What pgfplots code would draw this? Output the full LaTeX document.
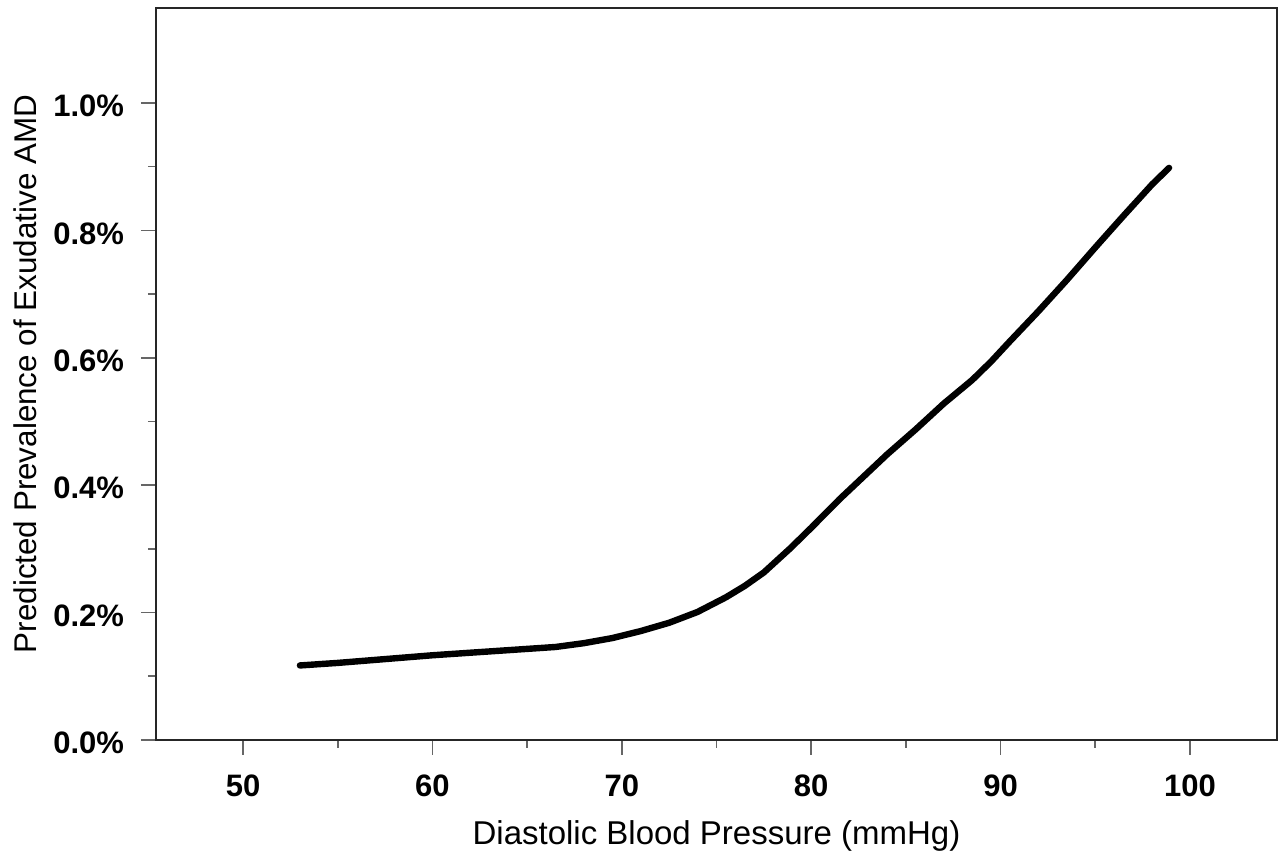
\documentclass[border=0pt]{standalone}
\usepackage{fontspec}
\setmainfont{Liberation Sans}
\usepackage{pgfplots}
\pgfplotsset{compat=1.18}
\usetikzlibrary{calc}
\begin{document}
\begin{tikzpicture}
\begin{axis}[
  scale only axis,
  width=560.5pt, height=366pt,
  xmin=45.4, xmax=104.6,
  ymin=0, ymax=1.149,
  xtick={50,60,70,80,90,100},
  ytick={0,0.2,0.4,0.6,0.8,1.0},
  minor x tick num=1,
  minor y tick num=1,
  xtick pos=left, ytick pos=left,
  tick align=outside,
  major tick length=7.5pt,
  minor tick length=4pt,
  tick style={color=black!60, line width=0.8pt},
  axis line style={line width=1.2pt, color=black!85},
  /pgf/number format/assume math mode=true,
  ticklabel style={font=\fontsize{15.5}{18}\selectfont\bfseries},
  yticklabel={\pgfmathprintnumber[fixed,fixed zerofill,precision=1]{\tick}\%},
  xticklabel style={anchor=base, yshift=-21pt},
  yticklabel style={anchor=east, xshift=-5pt, yshift=-1.5pt},
]
\addplot[black, line width=3.2pt, line cap=round, line join=round] coordinates {
(53.0,0.117) (55,0.121) (57.5,0.127) (60,0.133) (62.5,0.138) (65,0.143)
(66.5,0.146) (68,0.152) (69.5,0.160) (71,0.171) (72.5,0.184) (74,0.201)
(75.5,0.224) (76.5,0.242) (77.5,0.263) (78.9,0.301) (80,0.333) (81.5,0.378)
(82.5,0.406) (84,0.448) (85.5,0.487) (87,0.528) (88.5,0.565) (89.5,0.594)
(90.5,0.626) (92,0.673) (93.5,0.722) (95,0.773) (96.5,0.823) (98,0.872)
(98.9,0.898)
};
\coordinate (SW) at (rel axis cs:0,0);
\coordinate (NE) at (rel axis cs:1,1);
\coordinate (XL) at (rel axis cs:0.5,0);
\coordinate (YL) at (rel axis cs:0,0.5);
\end{axis}
\node[anchor=base, font=\fontsize{16.5}{19}\selectfont] at ([yshift=-52.5pt]XL) {Diastolic Blood Pressure (mmHg)};
\node[anchor=base, rotate=90, font=\fontsize{15.7}{19}\selectfont] at ([xshift=-59.5pt]YL) {Predicted Prevalence of Exudative AMD};
\pgfresetboundingbox
\useasboundingbox ([shift={(-78pt,-58pt)}]SW) rectangle ([shift={(4.5pt,4pt)}]NE);
\end{tikzpicture}
\end{document}
